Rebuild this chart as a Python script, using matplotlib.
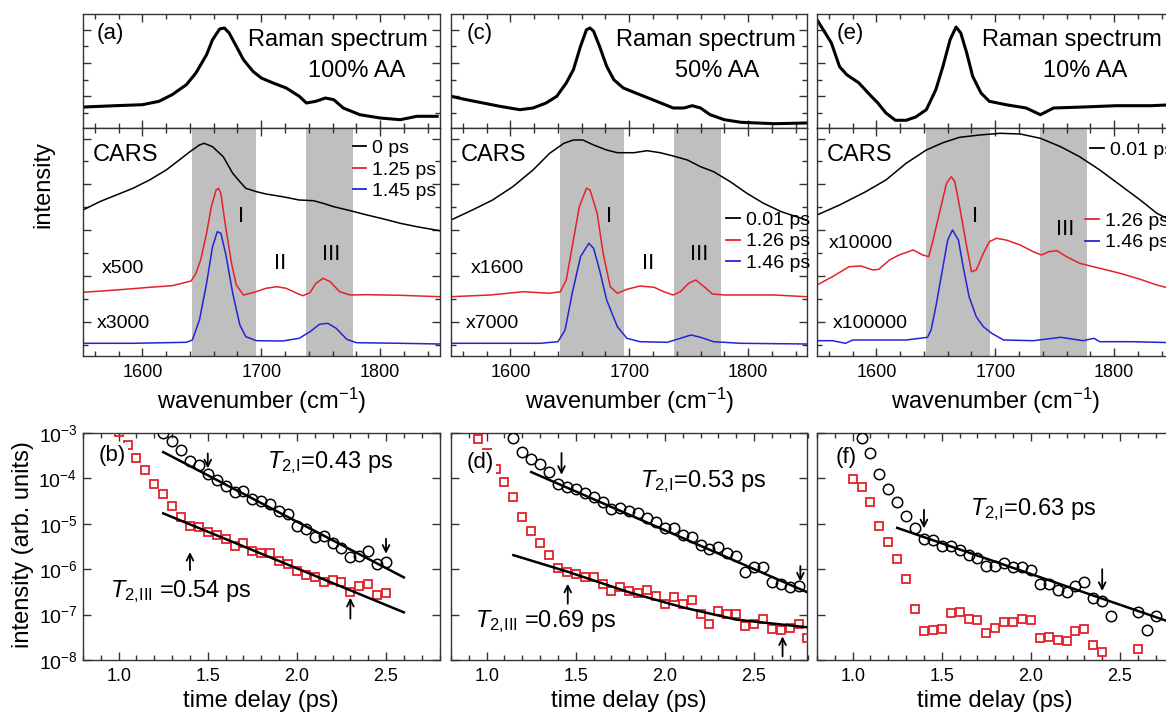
import matplotlib.pyplot as plt
import numpy as np
from matplotlib.ticker import MultipleLocator, FixedLocator, NullLocator, NullFormatter, LogLocator
from matplotlib.lines import Line2D

plt.rcParams['font.family'] = ['Liberation Sans', 'DejaVu Sans']
plt.rcParams['mathtext.fontset'] = 'custom'
plt.rcParams['mathtext.rm'] = 'Liberation Sans'
plt.rcParams['mathtext.it'] = 'Liberation Sans:italic'
plt.rcParams['mathtext.bf'] = 'Liberation Sans:bold'

# ---------------- spectra (wavenumber in cm-1, intensity in arb. units) ----------------
band_I = (1642, 1696)
band_III = (1738, 1777)

# panel (a) 100% AA
raman_a_wn = [1551, 1577, 1600, 1614, 1625, 1637, 1645, 1654, 1659, 1665, 1669, 1673, 1679, 1685,
              1693, 1700, 1710, 1721, 1732, 1738, 1746, 1754, 1761, 1769, 1783, 1800, 1817, 1831, 1848]
raman_a = [21, 22.3, 23.3, 26.7, 33.3, 43.3, 55, 73.3, 88.3, 99, 100, 95, 81.7, 68.3,
           56.7, 50, 45, 40, 31.7, 25, 26.7, 30, 28.3, 20, 13.3, 10, 8.3, 11.7, 11.7]
cars0_a_wn = [1550, 1564, 1578, 1592, 1606, 1620, 1631, 1640, 1648, 1652, 1659, 1668, 1676, 1682,
              1687, 1696, 1704, 1718, 1732, 1744, 1752, 1761, 1775, 1789, 1803, 1817, 1831, 1850]
cars0_a = [146, 154.3, 161, 167.7, 176, 186, 196, 204.3, 211, 212.7, 209.3, 199.3, 182.7, 174.3,
           167.7, 164.3, 162, 159.3, 156, 155.3, 152.7, 149.3, 145.3, 141, 137, 132.7, 129.3, 125.3]
cars1_a_wn = [1550, 1578, 1606, 1625, 1641, 1645, 1649, 1654, 1658, 1662, 1664, 1666, 1670, 1675, 1679,
              1685, 1693, 1704, 1713, 1721, 1730, 1735, 1741, 1746, 1752, 1758, 1766, 1775, 1789, 1817, 1850]
cars1_a = [63.7, 66, 68.7, 70.3, 75, 82.7, 96, 122.7, 149.3, 166, 167.7, 162.7, 129.3, 92.7, 71,
           61, 63.3, 67.7, 69.3, 67.7, 62.7, 60.3, 63.3, 72.7, 77.7, 74.3, 64.3, 61, 61.3, 60.7, 59.3]
cars2_a_wn = [1550, 1592, 1637, 1642, 1648, 1654, 1659, 1663, 1666, 1670, 1676, 1682, 1687, 1696,
              1718, 1732, 1741, 1749, 1756, 1763, 1772, 1780, 1817, 1850]
cars2_a = [12.7, 12.7, 13.7, 16, 36, 72.7, 109.3, 124.3, 122.7, 102.7, 62.7, 31, 19.3, 15.3,
           15, 17.7, 24.3, 31.7, 32.7, 27.7, 16.7, 13.3, 12.7, 12]

# panel (c) 50% AA
raman_c_wn = [1550, 1563, 1577, 1591, 1608, 1619, 1630, 1639, 1647, 1653, 1659, 1664, 1667, 1670, 1675,
              1681, 1687, 1695, 1709, 1723, 1737, 1746, 1753, 1760, 1768, 1780, 1794, 1822, 1849]
raman_c = [31.7, 28.3, 25, 21.7, 18.3, 20, 25, 31.7, 45, 58.3, 81.7, 98.3, 100, 96.7, 81.7,
           61.7, 48.3, 40, 33.3, 26.7, 20, 20, 22.3, 20, 13.3, 8.3, 5.7, 4.3, 5]
cars0_c_wn = [1550, 1568, 1585, 1602, 1619, 1633, 1645, 1653, 1661, 1670, 1681, 1690, 1704, 1715,
              1726, 1737, 1749, 1760, 1771, 1785, 1799, 1813, 1828, 1849]
cars0_c = [136, 146, 156, 169.3, 186, 202.7, 212.7, 216, 216, 211, 206, 203.3, 203.3, 205.3,
           203.3, 200, 196, 189.3, 184.3, 174.3, 162.7, 152.7, 144.3, 136]
cars1_c_wn = [1550, 1583, 1611, 1633, 1642, 1647, 1653, 1658, 1664, 1667, 1673, 1678, 1684, 1690,
              1698, 1709, 1721, 1729, 1737, 1743, 1750, 1756, 1763, 1770, 1780, 1822, 1849]
cars1_c = [59.3, 61, 64.3, 62.7, 64.3, 76, 116, 149.3, 167.7, 166, 142.7, 102.7, 69.3, 62.7,
           66.7, 70, 68.7, 64.3, 61, 64.3, 72.7, 76, 69.3, 62, 61, 61, 59.3]
cars2_c_wn = [1550, 1625, 1640, 1646, 1652, 1659, 1666, 1670, 1675, 1681, 1690, 1698, 1709, 1732,
              1743, 1752, 1760, 1771, 1794, 1849]
cars2_c = [12.7, 12.7, 14.3, 26, 62.7, 99.3, 112.7, 107.7, 86, 56, 29.3, 17.7, 14.3, 13.7,
           17.7, 21, 18.7, 14.3, 12.7, 12]

# panel (e) 10% AA
raman_e_wn = [1550, 1562, 1569, 1575, 1585, 1596, 1601, 1608, 1616, 1625, 1633, 1642, 1650, 1656, 1662,
              1667, 1671, 1676, 1681, 1688, 1695, 1709, 1726, 1738, 1749, 1774, 1802, 1831, 1850]
raman_e = [108.3, 85.3, 61.3, 53.3, 45.3, 31.3, 25.3, 15, 7.7, 7.7, 11, 18.3, 38.3, 61.7, 88.3,
           101, 95, 75, 51.7, 35, 26.7, 23.3, 20, 13.3, 20, 21, 22.3, 22.3, 23.3]
cars0_e_wn = [1550, 1569, 1591, 1608, 1625, 1642, 1656, 1670, 1687, 1704, 1721, 1738, 1755, 1771,
              1788, 1805, 1822, 1836, 1850]
cars0_e = [141, 151, 164.3, 176, 192.7, 206, 213.3, 218.7, 221, 222.7, 222, 217.7, 209.3, 199.3,
           186, 171, 156, 142.7, 134.3]
cars1_e_wn = [1550, 1563, 1577, 1587, 1597, 1602, 1611, 1619, 1631, 1639, 1644, 1647, 1653, 1659, 1663,
              1666, 1670, 1676, 1680, 1684, 1690, 1695, 1701, 1709, 1721, 1732, 1739, 1745, 1752,
              1760, 1771, 1788, 1805, 1822, 1836, 1850]
cars1_e = [71, 79.3, 89.3, 90, 86, 86.7, 96, 101, 106, 101, 99.3, 112.7, 142.7, 172.7, 179.3,
           174.3, 149.3, 109.3, 84.3, 86, 102.7, 114.3, 117.7, 116, 111, 104.3, 101, 104.3, 105.3,
           99.3, 92.7, 87.7, 82.7, 76.7, 71, 66.7]
cars2_e_wn = [1550, 1563, 1574, 1580, 1605, 1625, 1643, 1646, 1650, 1656, 1660, 1664, 1669, 1673,
              1678, 1684, 1690, 1697, 1707, 1732, 1755, 1774, 1783, 1788, 1816, 1850]
cars2_e = [15.3, 15.3, 12.7, 16, 16, 16, 18.7, 26, 49.3, 89.3, 116, 126, 116, 89.3,
           59.3, 39.3, 29.3, 22.7, 16, 15.3, 18.7, 15.3, 17.7, 14.3, 14.3, 13.3]

# ---------------- decay curves (time delay in ps, log10 intensity) ----------------
t_b_circ = [1.25, 1.30, 1.35, 1.40, 1.45, 1.50, 1.55, 1.60, 1.65, 1.70, 1.75, 1.80, 1.85,
            1.90, 1.95, 2.00, 2.05, 2.10, 2.15, 2.20, 2.25, 2.30, 2.35, 2.40, 2.45, 2.50]
lg_b_circ = [-3.0, -3.18, -3.38, -3.62, -3.71, -3.90, -4.03, -4.16, -4.30, -4.27, -4.45, -4.50, -4.56,
             -4.71, -4.78, -5.04, -5.11, -5.30, -5.26, -5.43, -5.53, -5.74, -5.70, -5.59, -5.89, -5.85]
t_b_sq = [1.00, 1.05, 1.10, 1.15, 1.20, 1.25, 1.30, 1.35, 1.40, 1.45, 1.50, 1.55, 1.60, 1.65, 1.70,
          1.75, 1.80, 1.85, 1.90, 1.95, 2.00, 2.05, 2.10, 2.15, 2.20, 2.25, 2.30, 2.35, 2.40, 2.45, 2.50]
lg_b_sq = [-2.98, -3.27, -3.54, -3.81, -4.12, -4.35, -4.61, -4.84, -5.04, -5.08, -5.19, -5.24, -5.33,
           -5.48, -5.43, -5.61, -5.65, -5.65, -5.81, -5.89, -6.03, -6.12, -6.18, -6.29, -6.24, -6.29,
           -6.51, -6.36, -6.33, -6.56, -6.53]
fit_b_I_t, fit_b_I = [1.25, 2.60], [-3.42, -6.18]
fit_b_III_t, fit_b_III = [1.25, 2.60], [-4.77, -6.95]
arrows_b = [(1.50, -3.45, -3.78), (2.50, -5.33, -5.66), (1.40, -6.02, -5.62), (2.30, -7.09, -6.63)]

t_d_circ = [1.15, 1.20, 1.25, 1.30, 1.35, 1.40, 1.45, 1.50, 1.55, 1.60, 1.65, 1.70, 1.75, 1.80,
            1.85, 1.90, 1.95, 2.00, 2.05, 2.10, 2.15, 2.20, 2.25, 2.30, 2.35, 2.40, 2.45, 2.50,
            2.55, 2.60, 2.65, 2.70, 2.75]
lg_d_circ = [-3.10, -3.42, -3.57, -3.68, -3.85, -4.12, -4.18, -4.23, -4.33, -4.40, -4.52, -4.67,
             -4.65, -4.72, -4.77, -4.87, -4.97, -5.09, -5.09, -5.24, -5.28, -5.46, -5.56, -5.50,
             -5.65, -5.72, -6.07, -5.95, -5.96, -6.29, -6.33, -6.39, -6.37]
t_d_sq = [0.95, 1.00, 1.05, 1.10, 1.15, 1.20, 1.25, 1.30, 1.35, 1.40, 1.45, 1.50, 1.55, 1.60, 1.65,
          1.70, 1.75, 1.80, 1.85, 1.90, 1.95, 2.00, 2.05, 2.10, 2.15, 2.20, 2.25, 2.30, 2.35, 2.40,
          2.45, 2.50, 2.55, 2.60, 2.65, 2.70, 2.75, 2.80]
lg_d_sq = [-3.13, -3.45, -3.79, -4.07, -4.40, -4.86, -5.15, -5.43, -5.68, -5.97, -6.07, -6.11, -6.18,
           -6.18, -6.33, -6.49, -6.39, -6.49, -6.53, -6.46, -6.59, -6.77, -6.61, -6.76, -6.68, -6.98,
           -7.21, -6.92, -6.99, -6.99, -7.25, -7.21, -7.10, -7.32, -7.34, -7.30, -7.21, -7.51]
fit_d_I_t, fit_d_I = [1.25, 2.80], [-3.86, -6.51]
fit_d_III_t = [1.15, 1.45, 1.80, 2.10, 2.40, 2.80]
fit_d_III = [-5.69, -6.05, -6.51, -6.84, -7.11, -7.28]
arrows_d = [(1.42, -3.44, -3.92), (2.76, -5.93, -6.27), (1.455, -6.76, -6.32), (2.66, -7.92, -7.48)]

t_f_circ = [1.05, 1.10, 1.15, 1.20, 1.25, 1.30, 1.35, 1.40, 1.45, 1.50, 1.55, 1.60, 1.65, 1.70,
            1.75, 1.80, 1.85, 1.90, 1.95, 2.00, 2.05, 2.10, 2.15, 2.20, 2.25, 2.30, 2.35, 2.40,
            2.45, 2.60, 2.65, 2.70]
lg_f_circ = [-3.10, -3.44, -3.90, -4.23, -4.52, -4.82, -5.09, -5.33, -5.36, -5.48, -5.48, -5.58,
             -5.68, -5.75, -5.92, -5.92, -5.87, -5.96, -5.96, -6.02, -6.33, -6.32, -6.46, -6.51,
             -6.37, -6.29, -6.64, -6.70, -7.03, -6.94, -7.33, -7.03]
t_f_sq = [1.00, 1.05, 1.10, 1.15, 1.20, 1.25, 1.30, 1.35, 1.40, 1.45, 1.50, 1.55, 1.60, 1.65, 1.70,
          1.75, 1.80, 1.85, 1.90, 1.95, 2.00, 2.05, 2.10, 2.15, 2.20, 2.25, 2.30, 2.35, 2.40, 2.60]
lg_f_sq = [-4.01, -4.18, -4.52, -5.04, -5.39, -5.78, -6.22, -6.88, -7.37, -7.34, -7.32, -6.97, -6.95,
           -7.10, -7.11, -7.41, -7.30, -7.17, -7.17, -7.10, -7.12, -7.52, -7.49, -7.56, -7.59, -7.36,
           -7.32, -7.67, -7.83, -7.75]
fit_f_I_t, fit_f_I = [1.25, 2.80], [-5.09, -7.19]
arrows_f = [(1.40, -4.69, -5.10), (2.40, -6.00, -6.48)]

RED = '#e3222b'
BLUE = '#2424d6'
GRAY = '#bfbfbf'
W, H = 1166, 715
col_x = [83, 451, 817]
col_w = 356.5


def px_axes(fig, x0, y0, w, h):
    return fig.add_axes([x0 / W, 1 - (y0 + h) / H, w / W, h / H])


def ticks_in(ax, major=6, minor=3.5):
    ax.tick_params(which='both', direction='in', top=True, right=True, width=1.0,
                   color='#333333', labelsize=13, pad=6)
    ax.tick_params(which='major', length=major)
    ax.tick_params(which='minor', length=minor)
    for s in ax.spines.values():
        s.set_linewidth(1.0)
        s.set_color('#333333')


def spec_axes(ax, ylim, ymaj, ymin):
    ax.set_xlim(1550, 1850)
    ax.set_ylim(*ylim)
    ax.xaxis.set_major_locator(MultipleLocator(100))
    ax.xaxis.set_minor_locator(MultipleLocator(20))
    ax.yaxis.set_major_locator(FixedLocator(ymaj))
    ax.yaxis.set_minor_locator(FixedLocator(ymin))
    ax.yaxis.set_major_formatter(NullFormatter())
    ticks_in(ax)


fig = plt.figure(figsize=(W / 100, H / 100), dpi=100)

raman = [(raman_a_wn, raman_a, '(a)', '100% AA'),
         (raman_c_wn, raman_c, '(c)', '50% AA'),
         (raman_e_wn, raman_e, '(e)', '10% AA')]
cars = [
    [(cars0_a_wn, cars0_a, 'k'), (cars1_a_wn, cars1_a, RED), (cars2_a_wn, cars2_a, BLUE)],
    [(cars0_c_wn, cars0_c, 'k'), (cars1_c_wn, cars1_c, RED), (cars2_c_wn, cars2_c, BLUE)],
    [(cars0_e_wn, cars0_e, 'k'), (cars1_e_wn, cars1_e, RED), (cars2_e_wn, cars2_e, BLUE)],
]
delays = [['0 ps', '1.25 ps', '1.45 ps'], ['0.01 ps', '1.26 ps', '1.46 ps'], ['0.01 ps', '1.26 ps', '1.46 ps']]
scales = [('x500', 1584, 87.7, 'x3000', 1584, 32.7),
          ('x1600', 1589, 87.7, 'x7000', 1585, 32.7),
          ('x10000', 1587, 112.7, 'x100000', 1595, 32.7)]
label_x = [0.076, 0.08, 0.093]
aa_x = [0.768, 0.747, 0.753]

for i in range(3):
    # Raman spectrum
    ax = px_axes(fig, col_x[i], 14, col_w, 114)
    wn, y, tag, aa = raman[i]
    ax.plot(wn, y, color='k', lw=2.2, solid_joinstyle='round')
    spec_axes(ax, (0, 114), [31.7, 65, 98.3], [15, 48.3, 81.7])
    ax.xaxis.set_major_formatter(NullFormatter())
    ax.text(label_x[i], 0.83, tag, transform=ax.transAxes, fontsize=16, ha='center', va='center')
    ax.text(0.968, 0.77, 'Raman spectrum', transform=ax.transAxes, fontsize=17, ha='right', va='center')
    ax.text(aa_x[i], 0.5, aa, transform=ax.transAxes, fontsize=17, ha='center', va='center')

    # CARS spectra
    ax = px_axes(fig, col_x[i], 128, col_w, 228)
    ax.axvspan(*band_I, color=GRAY, lw=0, zorder=0)
    ax.axvspan(*band_III, color=GRAY, lw=0, zorder=0)
    for wn, y, c in cars[i]:
        ax.plot(wn, y, color=c, lw=1.1, solid_joinstyle='round')
    spec_axes(ax, (0, 228), [34.3, 80, 126, 172, 217], [11.4, 57.2, 103, 149, 195])
    ax.set_xlabel(r'wavenumber (cm$^{-1}$)', fontsize=17, labelpad=3)
    ax.text(0.028, 0.882, 'CARS', transform=ax.transAxes, fontsize=17, ha='left', va='center')
    ax.text(1683, 139, 'I', fontsize=16, ha='center', va='center')
    if i < 2:
        ax.text(1716, 92, 'II', fontsize=16, ha='center', va='center')
        ax.text(1759, 101, 'III', fontsize=16, ha='center', va='center')
    else:
        ax.text(1759, 126, 'III', fontsize=16, ha='center', va='center')
    s1, x1, y1, s2, x2, y2 = scales[i]
    ax.text(x1, y1, s1, fontsize=14, ha='center', va='center')
    ax.text(x2, y2, s2, fontsize=14, ha='center', va='center')

    handles = [Line2D([], [], color=c, lw=1.3) for _, _, c in cars[i]]
    kw = dict(frameon=False, fontsize=14, handlelength=0.7, handletextpad=0.3, labelspacing=0.2,
              borderpad=0, borderaxespad=0, loc='upper left')
    if i == 0:
        ax.legend(handles, delays[i], bbox_to_anchor=(0.757, 0.95), **kw)
    elif i == 1:
        ax.legend(handles, delays[i], bbox_to_anchor=(0.772, 0.635), **kw)
    else:
        leg = ax.legend(handles[:1], delays[i][:1], bbox_to_anchor=(0.767, 0.94), **kw)
        ax.add_artist(leg)
        ax.legend(handles[1:], delays[i][1:], bbox_to_anchor=(0.753, 0.63), **kw)

fig.text(43 / W, 1 - 185 / H, 'intensity', rotation=90, fontsize=17, ha='center', va='center')

# ---------------- decay panels ----------------
decays = [
    (t_b_circ, lg_b_circ, t_b_sq, lg_b_sq, [(fit_b_I_t, fit_b_I), (fit_b_III_t, fit_b_III)], arrows_b, '(b)'),
    (t_d_circ, lg_d_circ, t_d_sq, lg_d_sq, [(fit_d_I_t, fit_d_I), (fit_d_III_t, fit_d_III)], arrows_d, '(d)'),
    (t_f_circ, lg_f_circ, t_f_sq, lg_f_sq, [(fit_f_I_t, fit_f_I)], arrows_f, '(f)'),
]
t2_texts = [
    [(0.516, 0.846, r'$T_{2,\!\mathrm{I}}$=0.43 ps'), (0.076, 0.278, r'$T_{2,\!\mathrm{III}}$ =0.54 ps')],
    [(0.531, 0.762, r'$T_{2,\!\mathrm{I}}$=0.53 ps'), (0.067, 0.145, r'$T_{2,\!\mathrm{III}}$ =0.69 ps')],
    [(0.43, 0.639, r'$T_{2,\!\mathrm{I}}$=0.63 ps')],
]
tag_y = [0.903, 0.872, 0.89]

for i in range(3):
    tc, lc, ts, ls, fits, arrows, tag = decays[i]
    ax = px_axes(fig, col_x[i], 433, col_w, 227)
    ax.set_yscale('log')
    ax.plot(ts, 10 ** np.array(ls), 's', ms=6, mfc='none', mec=RED, mew=1.3, zorder=3)
    ax.plot(tc, 10 ** np.array(lc), 'o', ms=7.5, mfc='none', mec='k', mew=1.1, zorder=3)
    for ft, fl in fits:
        ax.plot(ft, 10 ** np.array(fl), color='k', lw=1.8, zorder=4)
    for t, tail, head in arrows:
        ax.annotate('', xy=(t, 10 ** head), xytext=(t, 10 ** tail),
                    arrowprops=dict(arrowstyle='->', color='k', lw=1.3,
                                    shrinkA=0, shrinkB=0, mutation_scale=12), zorder=5)
    ax.set_xlim(0.8, 2.8)
    ax.set_ylim(1e-8, 1e-3)
    ax.xaxis.set_major_locator(MultipleLocator(0.5))
    ax.xaxis.set_minor_locator(MultipleLocator(0.1))
    ax.yaxis.set_major_locator(LogLocator(base=10, numticks=12))
    ax.yaxis.set_minor_locator(NullLocator())
    ticks_in(ax)
    ax.tick_params(axis='y', labelsize=14, pad=4)
    if i > 0:
        ax.yaxis.set_major_formatter(NullFormatter())
    ax.set_xlabel('time delay (ps)', fontsize=17, labelpad=3)
    ax.text(0.081, tag_y[i], tag, transform=ax.transAxes, fontsize=16, ha='center', va='center',
            bbox=dict(fc='white', ec='none', pad=1.5), zorder=6)
    for x, y, s in t2_texts[i]:
        ax.text(x, y, s, transform=ax.transAxes, fontsize=17, ha='left', va='baseline')

fig.text(23 / W, 1 - 545 / H, 'intensity (arb. units)', rotation=90, fontsize=17,
         ha='center', va='center')

fig.savefig('out.png', dpi=100)
